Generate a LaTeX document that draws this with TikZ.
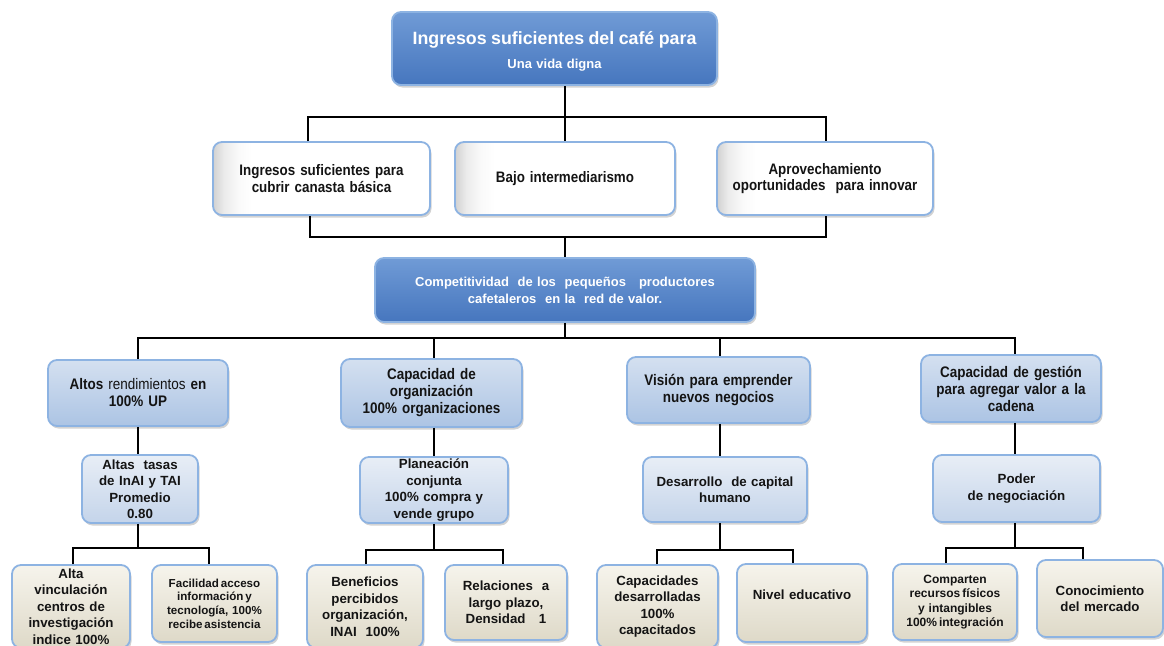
\documentclass[tikz,border=0pt]{standalone}
\usepackage{fontspec}
\setmainfont{Liberation Sans}
\newfontfamily\narfont{Liberation Sans}[FakeStretch=0.88]
\usetikzlibrary{shadows}
\definecolor{bordc}{RGB}{141,179,226}
\definecolor{darkT}{RGB}{112,155,214}
\definecolor{darkB}{RGB}{70,118,190}
\definecolor{lbT}{RGB}{212,224,240}
\definecolor{lbB}{RGB}{172,196,228}
\definecolor{llT}{RGB}{232,238,246}
\definecolor{llB}{RGB}{196,212,234}
\definecolor{bgT}{RGB}{246,244,236}
\definecolor{bgB}{RGB}{222,217,200}
\definecolor{txt}{RGB}{20,20,20}
\pgfdeclarehorizontalshading{bevelwhite}{100bp}{color(0bp)=(black!20); color(25bp)=(black!18); color(27.5bp)=(black!8); color(31bp)=(black!2); color(34bp)=(white); color(100bp)=(white)}
\begin{document}
\begin{tikzpicture}[x=1pt,y=-1pt,
  base/.style={rounded corners=9pt, draw=bordc, line width=1.8pt, align=center, inner sep=2pt,
    font=\fontsize{13.3}{16.5}\selectfont\bfseries, text=txt,
    drop shadow={shadow xshift=1.5pt,shadow yshift=-2.5pt,opacity=.35}},
  darkbox/.style={base, top color=darkT, bottom color=darkB, text=white},
  whitebox/.style={base, shade, shading=bevelwhite,
    font=\narfont\fontsize{15.2}{16.5}\selectfont\bfseries},
  lvtwo/.style={base, top color=lbT, bottom color=lbB, font=\narfont\fontsize{15.3}{17}\selectfont\bfseries},
  lvthree/.style={base, top color=llT, bottom color=llB},
  lvfour/.style={base, top color=bgT, bottom color=bgB},
  conn/.style={line width=2pt, black}
]
\useasboundingbox (0,0) rectangle (1164,645);

% top level
\node[darkbox, minimum width=325pt, minimum height=73pt, text width=310pt] (top) at (554.5,48.5)
  {\mbox{}\\[2.5pt]{\fontsize{17.8}{22}\selectfont Ingresos suficientes del café para}\\[7pt]
   {\fontsize{13}{16}\selectfont Una vida digna}};

% level 1
\node[whitebox, minimum width=217pt, minimum height=73pt, text width=205pt] (A) at (321.5,178.5)
  {Ingresos suficientes para\\cubrir canasta básica};
\node[whitebox, minimum width=220pt, minimum height=73pt, text width=205pt] (B) at (565,178.5)
  {Bajo intermediarismo};
\node[whitebox, minimum width=216pt, minimum height=73pt, text width=205pt] (C) at (825,178.5)
  {Aprovechamiento\\oportunidades\ \ para innovar};

% competitividad
\node[darkbox, minimum width=380pt, minimum height=64pt, text width=360pt,
  font=\fontsize{13}{17}\selectfont\bfseries] (comp) at (565,290)
  {Competitividad\ \ de los\ \ pequeños\ \ \ productores\\cafetaleros\ \ en la\ \ red de valor.};

% level 2
\node[lvtwo, minimum width=180pt, minimum height=66pt, text width=170pt] (D) at (138,393)
  {Altos {\mdseries rendimientos} en\\100\% UP};
\node[lvtwo, minimum width=181pt, minimum height=68pt, text width=170pt] (E) at (431.5,393)
  {Capacidad de\\organización\\100\% organizaciones};
\node[lvtwo, minimum width=183pt, minimum height=66pt, text width=172pt] (F) at (718.5,390)
  {Visión para emprender\\nuevos negocios};
\node[lvtwo, minimum width=180pt, minimum height=67pt, text width=172pt] (G) at (1011,388.5)
  {Capacidad de gestión\\para agregar valor a la\\cadena};

% level 3
\node[lvthree, minimum width=116pt, minimum height=68pt, text width=110pt] (H) at (140,489)
  {Altas\ \ tasas\\de InAI y TAI\\Promedio\\0.80};
\node[lvthree, minimum width=148pt, minimum height=66pt, text width=140pt] (I) at (434,490)
  {Planeación\\conjunta\\100\% compra y\\vende grupo};
\node[lvthree, minimum width=164pt, minimum height=65pt, text width=156pt] (J) at (725,489.5)
  {Desarrollo\ \ de capital\\humano};
\node[lvthree, minimum width=167pt, minimum height=67pt, text width=156pt] (K) at (1016.5,488.5)
  {Poder\\de negociación};

% level 4
\node[lvfour, minimum width=118pt, minimum height=83pt, text width=112pt] (L1) at (71,606.5)
  {Alta\\vinculación\\centros de\\investigación\\indice 100\%};
\node[lvfour, minimum width=125pt, minimum height=77pt, text width=120pt,
  font=\fontsize{11.6}{13.6}\selectfont\bfseries] (L2) at (214.5,603.5)
  {Facilidad\,acceso\\información\,y\\tecnología, 100\%\\recibe\,asistencia};
\node[lvfour, minimum width=116pt, minimum height=83pt, text width=112pt] (L3) at (365,606.5)
  {Beneficios\\percibidos\\organización,\\INAI\ \ 100\%};
\node[lvfour, minimum width=122pt, minimum height=75pt, text width=116pt] (L4) at (506,602.5)
  {Relaciones\ \ a\\largo plazo,\\Densidad\ \ \ 1};
\node[lvfour, minimum width=121pt, minimum height=83pt, text width=116pt] (L5) at (657.5,606.5)
  {Capacidades\\desarrolladas\\100\%\\capacitados};
\node[lvfour, minimum width=130pt, minimum height=78pt, text width=124pt] (L6) at (802,603)
  {Nivel educativo\\\mbox{}};
\node[lvfour, minimum width=124pt, minimum height=76pt, text width=120pt,
  font=\fontsize{12}{14.3}\selectfont\bfseries] (L7) at (955,602)
  {Comparten\\recursos\,físicos\\y intangibles\\100\%\,integración};
\node[lvfour, minimum width=126pt, minimum height=77pt, text width=120pt] (L8) at (1100,598.5)
  {Conocimiento\\del mercado};

% connectors: top -> level 1
\coordinate (t1) at (308,117);
\coordinate (tm) at (565,117);
\coordinate (t3) at (826,117);
\draw[conn] (top.south -| tm) -- (tm);
\draw[conn] (A.north -| t1) -- (t1) -- (t3) -- (C.north -| t3);
\draw[conn] (tm) -- (B.north -| tm);

% level 1 -> competitividad
\coordinate (b1) at (310,237);
\coordinate (bm) at (565,237);
\coordinate (b3) at (826,237);
\draw[conn] (A.south -| b1) -- (b1) -- (b3) -- (C.south -| b3);
\draw[conn] (bm) -- (comp.north -| bm);

% competitividad -> level 2
\coordinate (c0) at (565,338);
\coordinate (c1) at (138,338);
\coordinate (c2) at (434,338);
\coordinate (c3) at (720,338);
\coordinate (c4) at (1015,338);
\draw[conn] (comp.south -| c0) -- (c0);
\draw[conn] (D.north -| c1) -- (c1) -- (c4) -- (G.north -| c4);
\draw[conn] (c2) -- (E.north -| c2);
\draw[conn] (c3) -- (F.north -| c3);

% level 2 -> level 3
\draw[conn] (D.south -| c1) -- (H.north -| c1);
\draw[conn] (E.south -| c2) -- (I.north -| c2);
\draw[conn] (F.south -| c3) -- (J.north -| c3);
\draw[conn] (G.south -| c4) -- (K.north -| c4);

% level 3 -> level 4
\coordinate (h0) at (138,548);
\coordinate (h1) at (73,548);
\coordinate (h2) at (209,548);
\draw[conn] (H.south -| h0) -- (h0);
\draw[conn] (L1.north -| h1) -- (h1) -- (h2) -- (L2.north -| h2);

\coordinate (i0) at (434,550);
\coordinate (i1) at (366,550);
\coordinate (i2) at (503,550);
\draw[conn] (I.south -| i0) -- (i0);
\draw[conn] (L3.north -| i1) -- (i1) -- (i2) -- (L4.north -| i2);

\coordinate (j0) at (720,550);
\coordinate (j1) at (657,550);
\coordinate (j2) at (793,550);
\draw[conn] (J.south -| j0) -- (j0);
\draw[conn] (L5.north -| j1) -- (j1) -- (j2) -- (L6.north -| j2);

\coordinate (k0) at (1015,548);
\coordinate (k1) at (946,548);
\coordinate (k2) at (1083,548);
\draw[conn] (K.south -| k0) -- (k0);
\draw[conn] (L7.north -| k1) -- (k1) -- (k2) -- (L8.north -| k2);
\end{tikzpicture}
\end{document}
